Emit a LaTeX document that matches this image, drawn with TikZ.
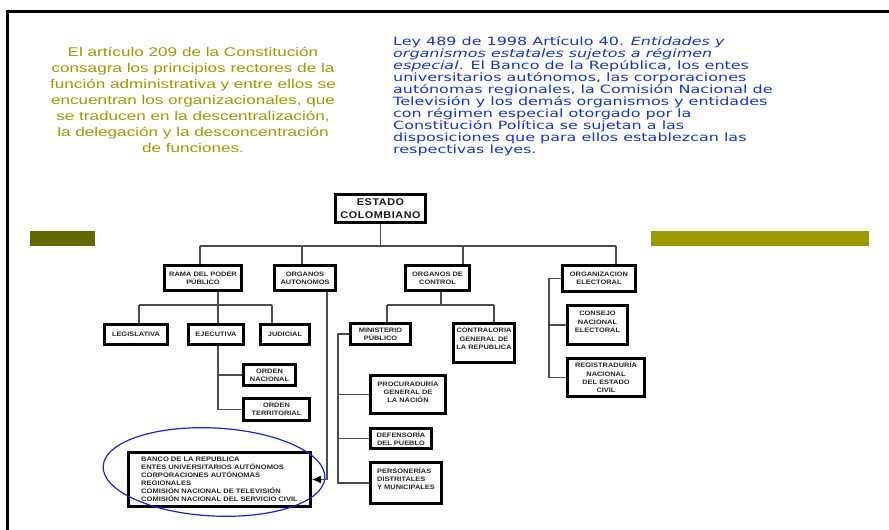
\documentclass[tikz,border=0pt]{standalone}
\usepackage{fontspec}
\usetikzlibrary{arrows.meta}
\newfontfamily\olivefont[FakeStretch=1.36]{Liberation Sans}
\newfontfamily\bluefont[FakeStretch=1.4]{DejaVu Sans}
\newfontfamily\boxfont[FakeStretch=1.16]{Liberation Sans}
\newfontfamily\titlefont[FakeStretch=1.1,LetterSpace=6]{Liberation Sans}
\definecolor{olivetxt}{RGB}{155,155,0}
\definecolor{olivedark}{RGB}{102,102,0}
\definecolor{olivebar}{RGB}{153,153,0}
\definecolor{bluetxt}{RGB}{20,50,215}
\definecolor{ellblue}{RGB}{30,30,230}
\begin{document}
\begin{tikzpicture}[x=1pt,y=-1pt,
  olive/.style={anchor=base,inner sep=0pt,text=olivetxt,font=\olivefont\fontsize{12.6}{16}\selectfont},
  bluel/.style={anchor=base west,inner sep=0pt,text=bluetxt,font=\bluefont\fontsize{11.4}{12}\selectfont},
  box/.style={draw=black,line width=3pt,fill=white,inner sep=0pt,align=center,text=black!85,
    font=\boxfont\bfseries\fontsize{6.4}{8.3}\selectfont},
  conn/.style={draw=black!70,line width=1.1pt},
  arr/.style={conn,-{Latex[length=9pt,width=8pt,black]}}]
\useasboundingbox (0,0) rectangle (889,530);
% frame
\draw[line width=3pt,line join=miter] (7,530) -- (7,11) -- (889,11);
% olive bars
\fill[olivedark] (30,231) rectangle (95,246);
\fill[olivebar] (651,231) rectangle (869,246);
% left paragraph
\node[olive] (l1) at (193,56.5) {El artículo 209 de la Constitución};
\node[olive] (l2) at (193,72.5) {consagra los principios rectores de la};
\node[olive] (l3) at (193,88.5) {función administrativa y entre ellos se};
\node[olive] (l4) at (193,104.5) {encuentran los organizacionales, que};
\node[olive] (l5) at (193,120.5) {se traducen en la descentralización,};
\node[olive] (l6) at (193,136.5) {la delegación y la desconcentración};
\node[olive] (l7) at (193,152.5) {de funciones.};
% right paragraph
\node[bluel] (r1) at (393,45.5) {Ley 489 de 1998 Artículo 40. \textit{Entidades y}};
\node[bluel] (r2) at (393,57.5) {\textit{organismos estatales sujetos a régimen}};
\node[bluel] (r3) at (393,69.5) {\textit{especial}. El Banco de la República, los entes};
\node[bluel] (r4) at (393,81.5) {universitarios autónomos, las corporaciones};
\node[bluel] (r5) at (393,93.5) {autónomas regionales, la Comisión Nacional de};
\node[bluel] (r6) at (393,105.5) {Televisión y los demás organismos y entidades};
\node[bluel] (r7) at (393,117.5) {con régimen especial otorgado por la};
\node[bluel] (r8) at (393,129.5) {Constitución Política se sujetan a las};
\node[bluel] (r9) at (393,141.5) {disposiciones que para ellos establezcan las};
\node[bluel] (r10) at (393,153.5) {respectivas leyes.};
% boxes
\node[box,minimum width=90,minimum height=28,font=\titlefont\bfseries\fontsize{9.8}{12.5}\selectfont,text=black!90] (estado) at (380.5,208.5) {ESTADO\\COLOMBIANO};
\node[box,minimum width=77,minimum height=25] (rama) at (203,278) {RAMA DEL PODER\\PÚBLICO};
\node[box,minimum width=61,minimum height=25] (autonomos) at (305,278) {ORGANOS\\AUTONOMOS};
\node[box,minimum width=64,minimum height=25] (control) at (437.5,278) {ORGANOS DE\\CONTROL};
\node[box,minimum width=73,minimum height=26] (electoral) at (599,278.5) {ORGANIZACION\\ELECTORAL};
\node[box,minimum width=63,minimum height=20] (legislativa) at (136,334.5) {LEGISLATIVA};
\node[box,minimum width=55,minimum height=20] (ejecutiva) at (216,334.5) {EJECUTIVA};
\node[box,minimum width=49,minimum height=20] (judicial) at (285,334.5) {JUDICIAL};
\node[box,minimum width=52,minimum height=21] (nacional) at (269.5,375) {ORDEN\\NACIONAL};
\node[box,minimum width=66,minimum height=22] (territorial) at (276.5,409.5) {ORDEN\\TERRITORIAL};
\node[box,minimum width=60,minimum height=21] (ministerio) at (380.5,334) {MINISTERIO\\PÚBLICO};
\node[box,minimum width=61,minimum height=39] (contraloria) at (484,343) {CONTRALORIA\\GENERAL DE\\LA REPUBLICA\\\mbox{}};
\node[box,minimum width=75,minimum height=38] (procuraduria) at (408,394.5) {PROCURADURÍA\\GENERAL DE\\LA NACIÓN\\[-3pt]\mbox{}};
\node[box,minimum width=61,minimum height=20] (defensoria) at (401,438.5) {DEFENSORÍA\\DEL PUEBLO};
\node[box,minimum width=71,minimum height=41,align=left] (personerias) at (406,483) {PERSONERÍAS\\DISTRITALES\\Y MUNICIPALES\\\mbox{}};
\node[box,minimum width=60,minimum height=39] (consejo) at (597.5,325) {CONSEJO\\NACIONAL\\ELECTORAL\\[-2pt]\mbox{}};
\node[box,minimum width=77,minimum height=38] (registraduria) at (606,377.5) {REGISTRADURÍA\\NACIONAL\\DEL ESTADO\\CIVIL};
\node[box,minimum width=182,minimum height=54,align=left,font=\boxfont\bfseries\fontsize{6.5}{8}\selectfont] (entidades) at (219.5,479.5) {BANCO DE LA REPUBLICA\\ENTES UNIVERSITARIOS AUTÓNOMOS\\CORPORACIONES AUTÓNOMAS\\REGIONALES\\COMISIÓN NACIONAL DE TELEVISIÓN\\COMISIÓN NACIONAL DEL SERVICIO CIVIL};
% level-1 connectors
\coordinate (b1) at (200,246);
\coordinate (b2) at (302,246);
\coordinate (b3) at (463,246);
\coordinate (b4) at (616,246);
\draw[conn] (b1) -- (b4);
\draw[conn] (estado.south) -- (estado.south |- b1);
\draw[conn] (b1) -- (b1 |- rama.north);
\draw[conn] (b2) -- (b2 |- autonomos.north);
\draw[conn] (b3) -- (b3 |- control.north);
\draw[conn] (b4) -- (b4 |- electoral.north);
% rama subtree
\coordinate (r0) at (218,305);
\coordinate (rl) at (139,305);
\coordinate (rr) at (272,305);
\draw[conn] (r0 |- rama.south) -- (r0);
\draw[conn] (rl) -- (rr);
\draw[conn] (rl) -- (rl |- legislativa.north);
\draw[conn] (r0) -- (r0 |- ejecutiva.north);
\draw[conn] (rr) -- (rr |- judicial.north);
\draw[conn] (r0 |- ejecutiva.south) |- (territorial.west);
\draw[conn] (r0 |- nacional.west) -- (nacional.west);
% autonomos arrow
\coordinate (a1) at (327,292);
\draw[arr] (a1 |- autonomos.south) |- (entidades.east);
% control subtree
\coordinate (c0) at (441,305);
\coordinate (cl) at (387,305);
\coordinate (cr) at (494,305);
\draw[conn] (c0 |- control.south) -- (c0);
\draw[conn] (cl) -- (cr);
\draw[conn] (cl) -- (cl |- ministerio.north);
\draw[conn] (cr) -- (cr |- contraloria.north);
\coordinate (ms) at (338,400);
\draw[conn] (ministerio.west) -| (ms) |- (personerias.west);
\draw[conn] (ms |- procuraduria.west) -- (procuraduria.west);
\draw[conn] (ms |- defensoria.west) -- (defensoria.west);
% electoral subtree
\coordinate (es) at (549,320);
\draw[conn] (electoral.west) -| (es) |- (registraduria.west);
\draw[conn] (es |- consejo.west) -- (consejo.west);
% ellipse
\draw[ellblue,line width=1.2pt,rotate around={-3:(214,472)}] (214,472) ellipse [x radius=111,y radius=44];
\end{tikzpicture}
\end{document}
